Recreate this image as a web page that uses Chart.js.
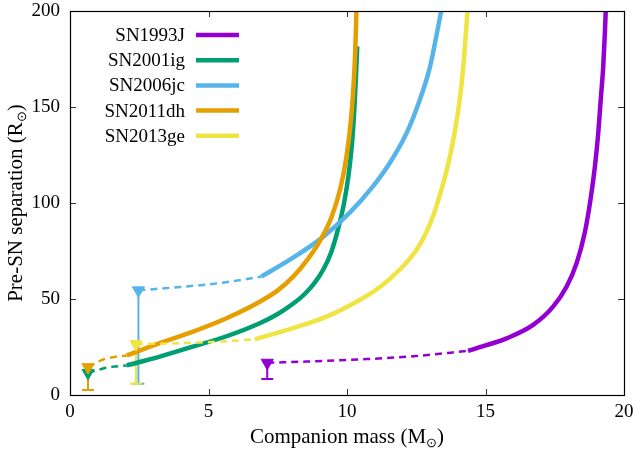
<!DOCTYPE html>
<html>
<head>
<meta charset="utf-8">
<script src="https://cdn.jsdelivr.net/npm/chart.js@4.4.1/dist/chart.umd.min.js"></script>
<style>
  html, body { margin: 0; padding: 0; background: #fff; }
  #wrap { width: 633px; height: 451px; }
</style>
</head>
<body>
<div id="wrap"><canvas id="sepChart" width="633" height="451"></canvas></div>
<script>
// supernovae in legend order, gnuplot default palette
var names  = ['SN1993J', 'SN2001ig', 'SN2006jc', 'SN2011dh', 'SN2013ge'];
var colors = ['#9400d3', '#009e73', '#56b4e9', '#e69f00', '#f0e442'];

// observed companion: mass, pre-SN separation, lower end of error bar
var obsMass = [7.12, 0.65, 2.47, 0.65, 2.38];
var obsSep  = [16.8, 11.5, 54.5, 14.5, 26.5];
var obsLow  = [8.3, 2.6, 5.9, 2.6, 5.9];

// dashed part of each track (mass, separation)
var dash1993J  = [[7.12, 16.8], [8.5, 17.4], [10.7, 18.7], [12.5, 20.3], [14.37, 23]];
var dash2001ig = [[0.65, 11.5], [1.2, 13.8], [1.6, 14.8], [2.05, 15.4]];
var dash2006jc = [[2.47, 54.5], [4.0, 56.3], [5.05, 57.7], [6.0, 59.5], [6.91, 61.7]];
var dash2011dh = [[0.65, 14.5], [1.2, 18.5], [1.6, 19.8], [2.05, 20.6]];
var dash2013ge = [[2.38, 26.5], [4.0, 27.0], [5.5, 27.9], [6.67, 29]];

// solid part of each track
var solid1993J  = [[14.37, 23], [15.0, 25.8], [15.76, 29.5], [16.72, 36.5], [17.44, 46], [17.93, 56.5],
                   [18.29, 68.7], [18.58, 84.3], [18.79, 101.7], [18.95, 119], [19.07, 136.4],
                   [19.16, 153.8], [19.25, 171], [19.31, 188.6], [19.34, 200]];
var solid2001ig = [[2.05, 15.4], [3.24, 20], [4.44, 25.2], [5.65, 30.6], [6.85, 37.4], [7.5, 42.2],
                   [8.05, 47.5], [8.5, 53], [8.85, 58.8], [9.15, 65.5], [9.42, 74], [9.68, 86.5],
                   [9.9, 100.5], [10.06, 115], [10.18, 131], [10.27, 150], [10.33, 168], [10.37, 181.6]];
var solid2006jc = [[6.91, 61.7], [7.94, 70.5], [9.08, 81.7], [10.1, 95], [10.9, 108], [11.55, 121],
                   [12.15, 136.4], [12.63, 153.8], [12.98, 170], [13.2, 185], [13.4, 200]];
var solid2011dh = [[2.05, 20.6], [3.24, 27], [4.44, 33], [5.65, 40], [6.85, 48.6], [7.5, 54.5],
                   [8.05, 61.5], [8.6, 71], [9.08, 81.7], [9.45, 93], [9.75, 107], [9.98, 124],
                   [10.14, 143], [10.24, 162], [10.3, 180], [10.34, 200]];
var solid2013ge = [[6.67, 29], [8.05, 34.8], [9.26, 40.8], [10.46, 49.5], [11.0, 54.3], [11.55, 60.5],
                   [12.27, 71], [12.7, 80], [13.05, 91], [13.35, 104], [13.65, 120], [13.89, 137],
                   [14.07, 154], [14.2, 171], [14.29, 188], [14.35, 200]];

var dashedTracks = [dash1993J, dash2001ig, dash2006jc, dash2011dh, dash2013ge];
var solidTracks  = [solid1993J, solid2001ig, solid2006jc, solid2011dh, solid2013ge];

var xTicks = [0, 5, 10, 15, 20];
var yTicks = [0, 50, 100, 150, 200];

var serif = "'Liberation Serif', 'Times New Roman', serif";

function toPoints(arr) {
  return arr.map(function (p) { return { x: p[0], y: p[1] }; });
}

// later supernovae sit on top, so they go first (Chart.js draws index 0 last)
var datasets = [];
for (var i = names.length - 1; i >= 0; i--) {
  datasets.push({
    type: 'scatter',
    data: [{ x: obsMass[i], y: obsSep[i] }],
    pointStyle: 'triangle',
    rotation: 180,
    pointRadius: 7,
    backgroundColor: colors[i],
    borderColor: colors[i],
    borderWidth: 1
  });
  datasets.push({
    type: 'line',
    data: toPoints(solidTracks[i]),
    borderColor: colors[i],
    borderWidth: 4.5,
    pointRadius: 0,
    cubicInterpolationMode: 'monotone',
    fill: false
  });
  datasets.push({
    type: 'line',
    data: toPoints(dashedTracks[i]),
    borderColor: colors[i],
    borderWidth: 2.5,
    borderDash: [7, 5],
    pointRadius: 0,
    cubicInterpolationMode: 'monotone',
    fill: false
  });
}

// text with a subscript sun symbol, e.g. "(M" + "⊙" + ")"
function drawSunLabel(ctx, head, tail, x, y) {
  var big = '21px ' + serif;
  var small = '13px ' + serif;
  ctx.font = big;
  var w1 = ctx.measureText(head).width;
  var w3 = ctx.measureText(tail).width;
  ctx.font = small;
  var w2 = ctx.measureText('\u2299').width;
  var left = x - (w1 + w2 + w3) / 2;
  ctx.textAlign = 'left';
  ctx.textBaseline = 'alphabetic';
  ctx.font = big;
  ctx.fillText(head, left, y);
  ctx.font = small;
  ctx.fillText('\u2299', left + w1, y + 4);
  ctx.font = big;
  ctx.fillText(tail, left + w1 + w2, y);
}

var framePlugin = {
  id: 'gnuFrame',
  beforeDatasetsDraw: function (chart) {
    var ctx = chart.ctx, xs = chart.scales.x, ys = chart.scales.y;
    ctx.save();
    ctx.lineWidth = 2;
    for (var i = 0; i < names.length; i++) {
      var px = xs.getPixelForValue(obsMass[i]);
      var top = ys.getPixelForValue(obsSep[i]);
      var bot = ys.getPixelForValue(obsLow[i]);
      ctx.strokeStyle = colors[i];
      ctx.beginPath();
      ctx.moveTo(px, top);
      ctx.lineTo(px, bot);
      ctx.moveTo(px - 6, bot);
      ctx.lineTo(px + 6, bot);
      ctx.stroke();
    }
    ctx.restore();
  },
  afterDatasetsDraw: function (chart) {
    var ctx = chart.ctx, a = chart.chartArea;
    var xs = chart.scales.x, ys = chart.scales.y;
    ctx.save();

    // inward ticks on all four sides
    ctx.strokeStyle = '#333';
    ctx.lineWidth = 1;
    ctx.beginPath();
    xTicks.forEach(function (v) {
      var px = Math.round(xs.getPixelForValue(v)) + 0.5;
      ctx.moveTo(px, a.bottom); ctx.lineTo(px, a.bottom - 6);
      ctx.moveTo(px, a.top); ctx.lineTo(px, a.top + 6);
    });
    yTicks.forEach(function (v) {
      var py = Math.round(ys.getPixelForValue(v)) + 0.5;
      ctx.moveTo(a.left, py); ctx.lineTo(a.left + 6, py);
      ctx.moveTo(a.right, py); ctx.lineTo(a.right - 6, py);
    });
    ctx.stroke();

    // border box
    ctx.strokeStyle = '#000';
    ctx.lineWidth = 1.2;
    ctx.strokeRect(Math.round(a.left) + 0.5, Math.round(a.top) + 0.5,
                   Math.round(a.right - a.left), Math.round(a.bottom - a.top));

    // key, top left inside the plot
    ctx.font = '19px ' + serif;
    ctx.textAlign = 'right';
    ctx.textBaseline = 'middle';
    ctx.lineWidth = 4.5;
    for (var i = 0; i < names.length; i++) {
      var ry = 35 + i * 25.2;
      ctx.fillStyle = '#000';
      ctx.fillText(names[i], 185, ry + 1);
      ctx.strokeStyle = colors[i];
      ctx.beginPath();
      ctx.moveTo(196, ry);
      ctx.lineTo(239, ry);
      ctx.stroke();
    }

    // axis titles
    ctx.fillStyle = '#000';
    drawSunLabel(ctx, 'Companion mass (M', ')', (a.left + a.right) / 2, 443);
    ctx.translate(22, (a.top + a.bottom) / 2);
    ctx.rotate(-Math.PI / 2);
    drawSunLabel(ctx, 'Pre-SN separation (R', ')', 0, 0);
    ctx.restore();
  }
};

function noPad(s) {
  s.paddingLeft = 0; s.paddingRight = 0; s.paddingTop = 0; s.paddingBottom = 0;
}

new Chart(document.getElementById('sepChart'), {
  type: 'scatter',
  data: { datasets: datasets },
  options: {
    responsive: false,
    animation: false,
    events: [],
    layout: { padding: { top: 11, right: 9, left: 0, bottom: 0 } },
    plugins: { legend: { display: false }, tooltip: { enabled: false } },
    scales: {
      x: {
        type: 'linear', min: 0, max: 20,
        grid: { display: false, drawTicks: false },
        border: { display: false },
        afterFit: function (s) { s.height = 56; noPad(s); },
        afterBuildTicks: function (s) { s.ticks = xTicks.map(function (v) { return { value: v }; }); },
        ticks: { color: '#000', padding: 6, maxRotation: 0, font: { family: serif, size: 19 } }
      },
      y: {
        type: 'linear', min: 0, max: 200,
        grid: { display: false, drawTicks: false },
        border: { display: false },
        afterFit: function (s) { s.width = 70; noPad(s); },
        afterBuildTicks: function (s) { s.ticks = yTicks.map(function (v) { return { value: v }; }); },
        ticks: { color: '#000', padding: 10, font: { family: serif, size: 19 } }
      }
    }
  },
  plugins: [framePlugin]
});
</script>
</body>
</html>
